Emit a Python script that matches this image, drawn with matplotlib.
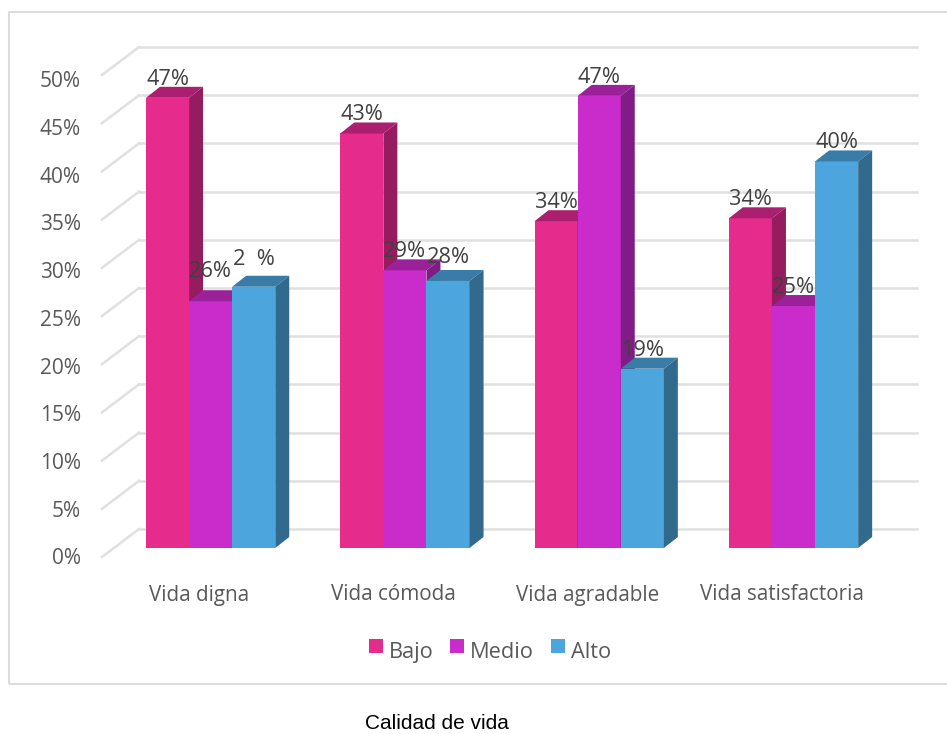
import matplotlib
matplotlib.use("Agg")
import matplotlib.pyplot as plt
from matplotlib.patches import Rectangle

categories = ["Vida digna", "Vida cómoda", "Vida agradable", "Vida satisfactoria"]
bajo = [46.7, 43.0, 33.9, 34.2]
medio = [25.6, 28.8, 46.9, 25.1]
alto = [27.1, 27.7, 18.6, 40.1]
bajo_labels = ["47%", "43%", "34%", "34%"]
medio_labels = ["26%", "29%", "47%", "25%"]
alto_labels = ["2  %", "28%", "19%", "40%"]
y_ticks = [0, 5, 10, 15, 20, 25, 30, 35, 40, 45, 50]

# name, values, labels, front, top, side
series = [
    ("Bajo", bajo, bajo_labels, "#e52b8c", "#ab1f70", "#951c5e"),
    ("Medio", medio, medio_labels, "#c92ccb", "#9a2199", "#7f1c86"),
    ("Alto", alto, alto_labels, "#4ca6dd", "#3a7ca8", "#326a8e"),
]

W, H = 947, 734
PX_X = 194.3   # pixels per category
PX_Y = 9.64    # pixels per percent
X0, Y0 = 210.6, 548  # pixel of first group centre / front zero

plt.rcParams["font.family"] = ["Open Sans", "DejaVu Sans"]
fig = plt.figure(figsize=(W / 100, H / 100), dpi=100)
ax = fig.add_axes([0, 0, 1, 1])
ax.set_xlim(-X0 / PX_X, (W - X0) / PX_X)
ax.set_ylim((Y0 - H) / PX_Y, Y0 / PX_Y)
ax.axis("off")


def dx(px):
    return px / PX_X


def dy(px):
    return px / PX_Y


# chart frame
fig.add_artist(Rectangle((9 / W, 1 - 684 / H), 1.0, (684 - 12) / H, transform=fig.transFigure,
                         fill=False, ec="#dcdcdc", lw=1.5))

# back wall gridlines and the slanted floor/wall lines
grid_col = "#e0e0e0"
x_wall = dx(139 - X0)
x_wall_front = dx(102 - X0)
x_end = dx(917 - X0)
for t in y_ticks:
    yb = t + dy(19)
    ax.plot([x_wall_front, x_wall], [t - dy(9), yb], color=grid_col, lw=1.8, zorder=1)
    ax.plot([x_wall, x_end], [yb, yb], color=grid_col, lw=1.8, zorder=1)
    # the tick labels run on a slightly tighter step than the gridlines
    ax.text(dx(81 - X0), t * 0.99 - dy(11), f"{t}%", ha="right", va="center", fontsize=15,
            color="#595959")

bar_w = dx(43.1)
depth_x, depth_y = dx(14), dy(11)
label_shift = {(1, 0): 29.5, (2, 0): 27.5, (2, 1): 23.5}
z = 2
for i in range(len(categories)):
    left = i - 1.5 * bar_w
    for s, (name, values, labels, front, top, side) in enumerate(series):
        x = left + s * bar_w
        v = values[i]
        ax.bar(x, v, bar_w, align="edge", color=front, zorder=z)
        ax.fill([x, x + depth_x, x + bar_w + depth_x, x + bar_w],
                [v, v + depth_y, v + depth_y, v], color=top, lw=0, zorder=z)
        ax.fill([x + bar_w, x + bar_w + depth_x, x + bar_w + depth_x, x + bar_w],
                [0, depth_y, v + depth_y, v], color=side, lw=0, zorder=z)
        z += 1
for i in range(len(categories)):
    left = i - 1.5 * bar_w
    for s, (name, values, labels, front, top, side) in enumerate(series):
        shift = label_shift.get((s, i), 18.5)
        ax.text(left + (s + 0.5) * bar_w, values[i] + dy(shift), labels[i], ha="center", va="center",
                fontsize=15.7, color="#404040", zorder=50)
    ax.text(i + dx(-12), dy(-47), categories[i], ha="center", va="center", fontsize=14.9, color="#595959")

# legend, squares sit a bit above the text like the original
legend_x = [369, 450, 551]
for (name, values, labels, front, top, side), lx in zip(series, legend_x):
    fig.add_artist(Rectangle((lx / W, 1 - 653 / H), 14 / W, 14 / H, transform=fig.transFigure,
                             color=front, lw=0))
    fig.text((lx + 20) / W, 1 - 658 / H, name, ha="left", va="baseline", fontsize=15.7, color="#595959")

fig.text(437 / W, 1 - 729 / H, "Calidad de vida", ha="center", va="baseline", fontsize=15,
         family="Liberation Sans", color="black")

fig.savefig("out.png", dpi=100)
